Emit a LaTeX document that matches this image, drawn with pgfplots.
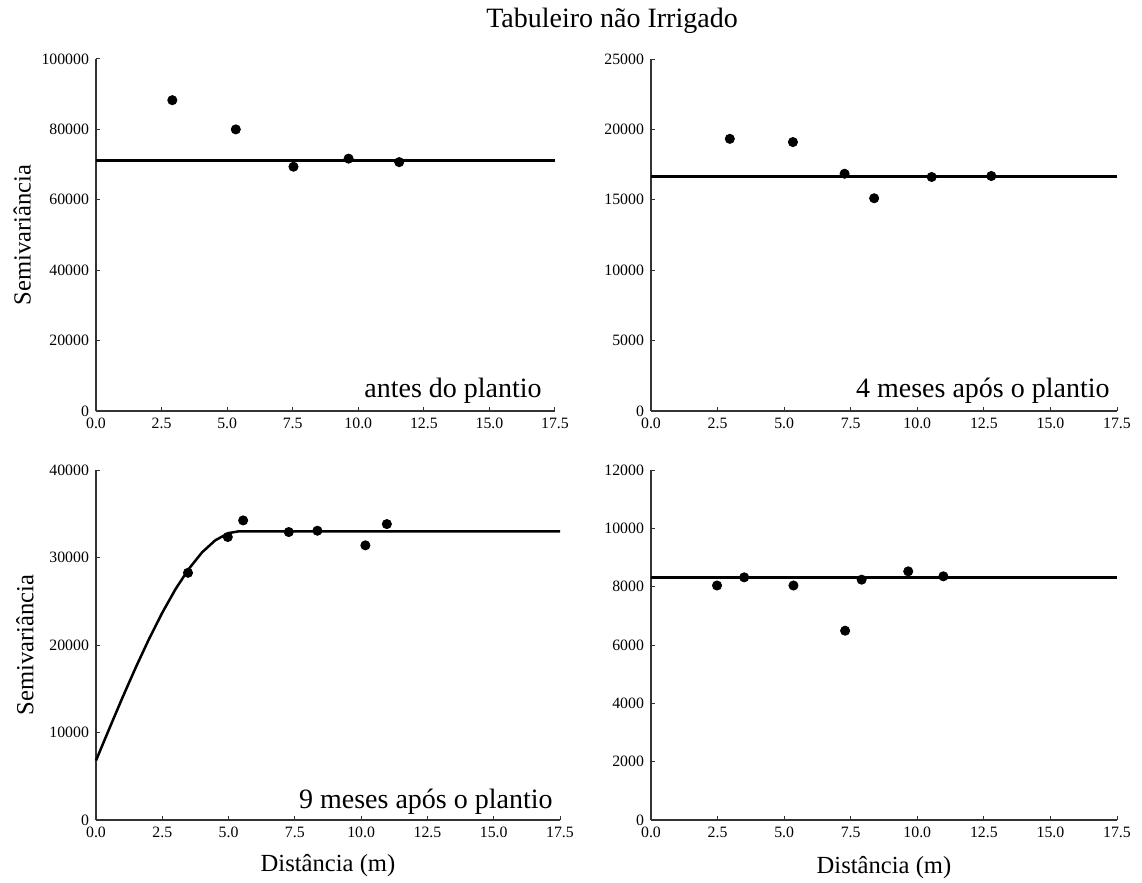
\documentclass[border=0pt]{standalone}
\usepackage{fontspec}
\setmainfont{Liberation Serif}
\usepackage{pgfplots}
\pgfplotsset{compat=1.18}
\tikzset{ann/.style={font=\fontsize{14}{16}\selectfont, anchor=base east, inner sep=0pt}}
\begin{document}
\begin{tikzpicture}
\path[use as bounding box] (0,0) rectangle (571pt,-441.5pt);
\pgfplotsset{
  every axis/.append style={
    scale only axis,
    axis lines=left,
    axis line style={-, line width=0.6pt, black!80},
    xmin=0, xmax=17.5, ymin=0,
    xtick={0,2.5,...,17.5},
    tick align=inside,
    major tick length=2pt,
    tick style={black!80, line width=0.5pt},
    clip=false,
    /pgf/number format/assume math mode=true,
    tick label style={font=\fontsize{7.9}{9}\selectfont},
    xticklabel style={/pgf/number format/.cd, fixed, fixed zerofill, precision=1},
    yticklabel style={/pgf/number format/.cd, fixed, 1000 sep={}},
    scaled y ticks=false,
    label style={font=\fontsize{12.3}{14}\selectfont},
  },
  pt/.style={only marks, mark=*, mark size=2.3pt, black},
  ln/.style={black, line width=1.25pt, no marks},
}
% Panel 1
\begin{axis}[at={(48pt,-205.5pt)}, anchor=south west, width=229.5pt, height=176pt,
  ymax=100000, ytick={0,20000,...,100000},
  ylabel={Semivariância}, ylabel style={at={(axis description cs:-0.161,0.5)}, anchor=center}]
\addplot[ln] coordinates {(0,71100) (17.5,71100)};
\addplot[pt] coordinates {(2.91,88300) (5.33,80000) (7.53,69400) (9.63,71700) (11.56,70700)};
\node[ann] at (axis description cs:0.972,0.037) {antes do plantio};
\end{axis}
% Panel 2
\begin{axis}[at={(325.5pt,-205.5pt)}, anchor=south west, width=233pt, height=176pt,
  ymax=25000, ytick={0,5000,...,25000}]
\addplot[ln] coordinates {(0,16650) (17.5,16650)};
\addplot[pt] coordinates {(2.96,19330) (5.33,19100) (7.27,16850) (8.38,15110) (10.54,16620) (12.78,16690)};
\node[ann] at (axis description cs:0.985,0.037) {4 meses após o plantio};
\end{axis}
% Panel 3
\begin{axis}[at={(48pt,-410pt)}, anchor=south west, width=232pt, height=175pt,
  ymax=40000, ytick={0,10000,...,40000},
  ylabel={Semivariância}, ylabel style={at={(axis description cs:-0.153,0.5)}, anchor=center},
  xlabel={Distância (m)}, xlabel style={at={(axis description cs:0.5,-0.13)}, anchor=center}]
\addplot[ln] coordinates {(0,6800) (0.5,10430) (1,14000) (1.5,17440) (2,20690) (2.5,23690) (3,26390) (3.5,28700) (4,30590) (4.5,31970) (5,32790) (5.4,33000) (17.5,33000)};
\addplot[pt] coordinates {(3.47,28250) (4.97,32340) (5.55,34240) (7.27,32910) (8.35,33060) (10.16,31390) (10.97,33820)};
\node[ann] at (axis description cs:0.985,0.034) {9 meses após o plantio};
\end{axis}
% Panel 4
\begin{axis}[at={(325.5pt,-410pt)}, anchor=south west, width=233pt, height=175pt,
  ymax=12000, ytick={0,2000,...,12000},
  xlabel={Distância (m)}, xlabel style={at={(axis description cs:0.5,-0.137)}, anchor=center}]
\addplot[ln] coordinates {(0,8320) (17.5,8320)};
\addplot[pt] coordinates {(2.48,8040) (3.50,8320) (5.35,8040) (7.29,6490) (7.91,8240) (9.66,8525) (10.98,8355)};
\end{axis}
\node[font=\fontsize{14}{16}\selectfont, anchor=base] at (306pt,-14pt) {Tabuleiro não Irrigado};
\end{tikzpicture}
\end{document}
